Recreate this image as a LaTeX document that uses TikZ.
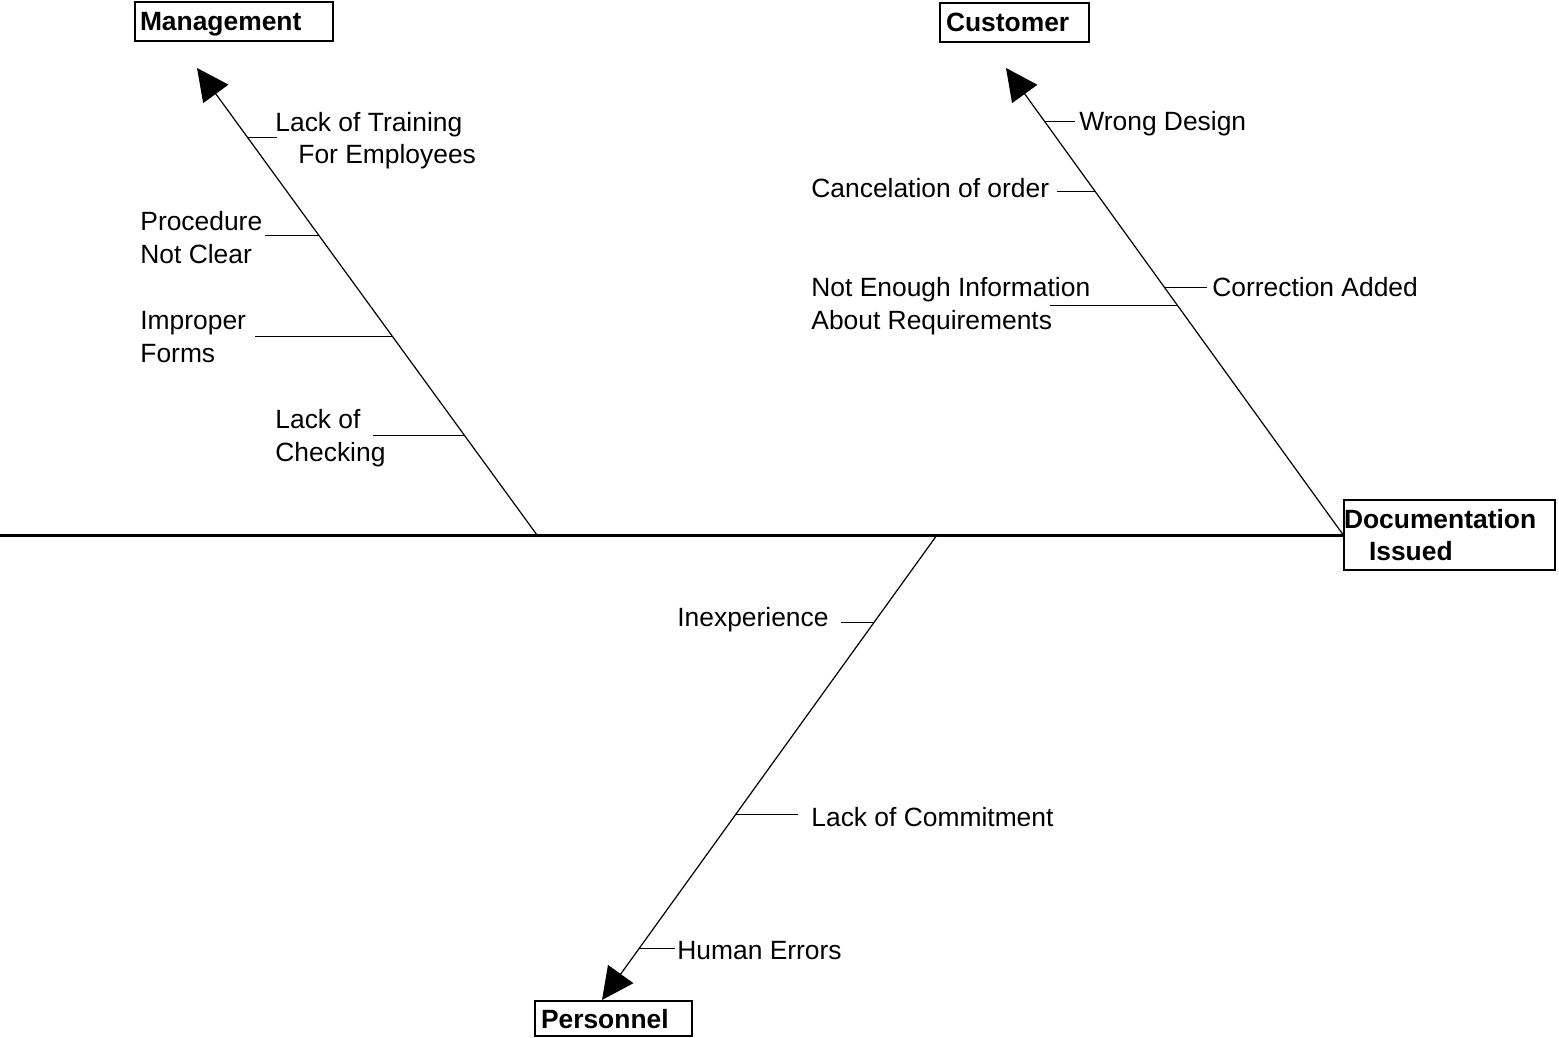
\documentclass[tikz,border=0pt]{standalone}
\usepackage{fontspec}
\setmainfont{Liberation Sans}
\usetikzlibrary{arrows.meta}
\begin{document}
\begin{tikzpicture}[x=0.5pt,y=-0.5pt,
  txt/.style={font=\fontsize{13.2}{16.5}\selectfont, inner sep=0pt, anchor=base west},
  headbox/.style={draw, line width=0.7pt, font=\fontsize{13.2}{16}\selectfont\bfseries,
    inner ysep=0pt, align=left},
  spine/.style={line width=0.6pt, -{Triangle[length=16pt,width=15.5pt]}},
  tick/.style={line width=0.5pt},
  mainline/.style={line width=1.5pt}]
\useasboundingbox[fill=white] (0,0) rectangle (1559,1038);

% category boxes and the effect box
\node[headbox, inner xsep=2.5pt, text width=94pt, minimum height=19.5pt, text height=9.5pt, text depth=0pt]
  (mgmt) at (234,21.5) {Management};
\node[headbox, inner xsep=3pt, text width=68.5pt, minimum height=19.5pt, text height=9.5pt, text depth=0pt]
  (cust) at (1014.5,22.5) {Customer};
\node[headbox, inner xsep=0pt, text width=105.5pt, minimum height=35pt]
  (doc) at (1449.5,535) {Documentation\\\hspace*{12.5pt}Issued};
\node[headbox, inner xsep=3pt, text width=72.5pt, minimum height=17.5pt, text height=9.5pt, text depth=0pt]
  (pers) at (613.5,1018.5) {Personnel};

% backbone
\coordinate (start) at (0,535);
\draw[mainline] (start) -- (doc.west);

% main bones
\coordinate (mroot) at (537,535);
\coordinate (mtip) at (197,68);
\coordinate (ctip) at (1006,68);
\coordinate (proot) at (937,535);
\coordinate (ptip) at (602,1000);
\draw[spine] (mroot) -- (mtip);
\draw[spine] (doc.west) -- (ctip);
\draw[spine] (proot) -- (ptip);

% points where the causes join the bones
\path (mroot) -- (mtip)
  coordinate[pos=0.8522] (ms1) coordinate[pos=0.6403] (ms2)
  coordinate[pos=0.4240] (ms3) coordinate[pos=0.2120] (ms4);
\path (doc.west) -- (ctip)
  coordinate[pos=0.8865] (cs1) coordinate[pos=0.7366] (cs2)
  coordinate[pos=0.4925] (cs3) coordinate[pos=0.5310] (cs4);
\path (proot) -- (ptip)
  coordinate[pos=0.1892] (ps1) coordinate[pos=0.6] (ps2) coordinate[pos=0.8882] (ps3);

% free ends of the cause ticks
\coordinate (me1) at (277,0);
\coordinate (me2) at (265,0);
\coordinate (me3) at (255,0);
\coordinate (me4) at (373,0);
\coordinate (ce1) at (1075,0);
\coordinate (ce2) at (1057,0);
\coordinate (ce3) at (1050,0);
\coordinate (ce4) at (1207,0);
\coordinate (pe1) at (841,0);
\coordinate (pe2) at (798,0);
\coordinate (pe3) at (675,0);

\foreach \s/\e in {ms1/me1,ms2/me2,ms3/me3,ms4/me4,cs1/ce1,cs2/ce2,cs3/ce3,cs4/ce4,ps1/pe1,ps2/pe2,ps3/pe3}
  \draw[tick] (\s) -- (\s -| \e);

% management causes
\node[txt] (m1a) at (275,131.5) {Lack of Training};
\node[txt] (m1b) at (298,163.5) {For Employees};
\node[txt] (m2a) at (140,230.5) {Procedure};
\node[txt] (m2b) at (140,263.5) {Not Clear};
\node[txt] (m3a) at (140,329.5) {Improper};
\node[txt] (m3b) at (140,362.5) {Forms};
\node[txt] (m4a) at (275,428.5) {Lack of};
\node[txt] (m4b) at (275,461.5) {Checking};

% customer causes
\node[txt] (c1) at (1079,130.5) {Wrong Design};
\node[txt] (c2) at (811,197.5) {Cancelation of order};
\node[txt] (c3a) at (811,296.5) {Not Enough Information};
\node[txt] (c3b) at (811,329.5) {About Requirements};
\node[txt] (c4) at (1212,296.5) {Correction Added};

% personnel causes
\node[txt] (p1) at (677,626.5) {Inexperience};
\node[txt] (p2) at (811,826.5) {Lack of Commitment};
\node[txt] (p3) at (677,959.5) {Human Errors};
\end{tikzpicture}
\end{document}
